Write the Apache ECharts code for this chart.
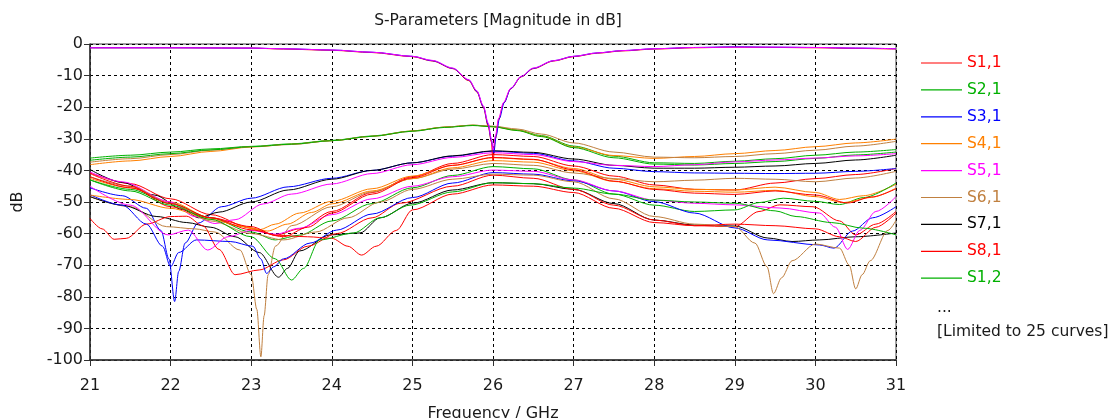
<!DOCTYPE html>
<html>
<head>
<meta charset="utf-8">
<script src="https://cdn.jsdelivr.net/npm/echarts@6/dist/echarts.min.js"></script>
<style>
  html, body { margin: 0; padding: 0; background: #ffffff; }
  #chart { width: 1110px; height: 418px; }
</style>
</head>
<body>
<div id="chart"></div>
<script>
// ---- axis ranges ----
const freqRange = [21, 31];      // GHz
const dbRange = [-100, 0];       // dB

// ---- curve data: [frequency GHz, magnitude dB] ----
// near-0 dB transmission curves with the notch at 26 GHz
const topMagenta = [[21,-1.2],[22,-1.2],[23,-1.3],[23.4,-1.5],[24,-1.9],[24.5,-2.6],[25,-3.9],[25.25,-5.2],[25.5,-7.6],[25.7,-11.3],[25.8,-14.8],[25.88,-19.5],[25.94,-25],[25.98,-30],[26.0,-33.5],[26.03,-29],[26.07,-23.5],[26.13,-18.5],[26.22,-14],[26.35,-10.2],[26.5,-7.6],[26.75,-5.3],[27,-3.9],[27.3,-2.8],[27.6,-2.1],[28,-1.5],[28.5,-1.1],[29,-1.0],[29.5,-1.0],[30,-1.1],[30.5,-1.3],[31,-1.5]];
const topRed = [[21,-1.2],[22,-1.2],[23,-1.3],[23.4,-1.6],[24,-2.0],[24.5,-2.7],[25,-4.0],[25.25,-5.4],[25.5,-7.8],[25.7,-11.6],[25.8,-15.2],[25.88,-20],[25.94,-26],[25.98,-31],[26.0,-37],[26.03,-30],[26.07,-24],[26.13,-18.8],[26.22,-14.2],[26.35,-10.4],[26.5,-7.8],[26.75,-5.4],[27,-4.0],[27.3,-2.9],[27.6,-2.2],[28,-1.6],[28.5,-1.2],[29,-1.0],[29.5,-1.1],[30,-1.2],[30.5,-1.4],[31,-1.6]];
const topBlue = [[21,-1.2],[22,-1.2],[23,-1.3],[23.4,-1.5],[24,-1.9],[24.5,-2.6],[25,-3.9],[25.25,-5.3],[25.5,-7.7],[25.7,-11.4],[25.8,-15],[25.88,-19.8],[25.94,-25.5],[25.98,-30.5],[26.01,-34.5],[26.04,-29],[26.08,-23.5],[26.14,-18.5],[26.22,-14.1],[26.35,-10.3],[26.5,-7.7],[26.75,-5.3],[27,-3.9],[27.3,-2.8],[27.6,-2.1],[28,-1.5],[28.5,-1.1],[29,-0.9],[29.5,-1.0],[30,-1.1],[30.5,-1.3],[31,-1.5]];

// upper coupling bundle peaking near 25.75 GHz
const greenB1 = [[21,-36.1],[21.5,-35.2],[22,-34.2],[22.5,-33.2],[23,-32.4],[23.5,-31.6],[24,-30.5],[24.5,-29.1],[25,-27.5],[25.4,-26.3],[25.75,-25.7],[26,-26.1],[26.3,-27.2],[26.6,-29],[27,-32.3],[27.5,-35.5],[28,-37.6],[28.5,-37.8],[29,-37.1],[29.5,-36.3],[30,-35.2],[30.5,-34.2],[31,-33.4]];
const greenB2 = [[21,-36.8],[21.5,-35.8],[22,-34.7],[22.5,-33.5],[23,-32.5],[23.5,-31.7],[24,-30.6],[24.5,-29.2],[25,-27.6],[25.4,-26.4],[25.75,-25.8],[26,-26.2],[26.3,-27.4],[26.6,-29.3],[27,-32.8],[27.5,-36],[28,-38],[28.5,-38.3],[29,-37.8],[29.5,-37.2],[30,-36.2],[30.5,-35.1],[31,-34.2]];
const tanB3 = [[21,-37.4],[21.5,-36.3],[22,-35],[22.5,-33.6],[23,-32.5],[23.5,-31.8],[24,-30.6],[24.5,-29.2],[25,-27.6],[25.4,-26.3],[25.75,-25.7],[26,-26],[26.3,-26.9],[26.6,-28.5],[27,-31.3],[27.5,-34.2],[28,-35.8],[28.5,-36],[29,-35.6],[29.5,-34.7],[30,-33.6],[30.5,-32.3],[31,-30.8]];
const orangeB4 = [[21,-38.2],[21.5,-37],[22,-35.6],[22.5,-34],[23,-32.6],[23.5,-31.7],[24,-30.6],[24.5,-29.2],[25,-27.5],[25.4,-26.3],[25.75,-25.7],[26,-26.2],[26.3,-27.3],[26.6,-29.2],[27,-32.6],[27.5,-35.3],[28,-36.2],[28.5,-35.6],[29,-34.7],[29.5,-33.7],[30,-32.5],[30.5,-31.3],[31,-30.1]];

// curves peaking near -34 dB at 26 GHz
const blackC1 = [[21,-39.7],[21.4,-43.8],[21.8,-47.8],[22.15,-52.4],[22.35,-55],[22.6,-53.2],[23,-50],[23.46,-46.2],[24,-42.8],[24.5,-40],[25,-37.6],[25.5,-35.4],[26,-33.8],[26.5,-34.3],[27,-36.4],[27.5,-38.4],[28,-39.3],[28.5,-39.3],[29,-39],[29.5,-38.6],[30,-37.8],[30.5,-36.7],[31,-35.2]];
const blueC2 = [[21,-45.5],[21.4,-48],[21.7,-52],[21.88,-59],[21.98,-68],[22.05,-81.5],[22.1,-72],[22.18,-63],[22.34,-56.7],[22.63,-51.5],[23,-48.8],[23.46,-45.2],[24,-42.5],[24.5,-40],[25,-37.6],[25.5,-35.5],[26,-33.9],[26.5,-34.6],[27,-37],[27.5,-39.3],[28,-40.4],[28.5,-40.8],[29,-40.9],[29.5,-41],[30,-40.9],[30.5,-40.3],[31,-39.4]];
const magentaC3 = [[21,-40.5],[21.4,-43.6],[22,-50],[22.3,-54.6],[22.55,-56.8],[22.8,-55.6],[23.15,-50.6],[23.5,-47.5],[24,-44.3],[24.5,-41],[25,-38.2],[25.5,-35.9],[26,-34.4],[26.5,-35],[27,-37.2],[27.5,-38.4],[28,-38.8],[28.5,-38.2],[29,-37.3],[29.5,-36.7],[30,-36.1],[30.5,-35.4],[31,-34.7]];

// curves between -35 and -38 dB at 26 GHz
const redD1 = [[21,-40.8],[21.5,-44.2],[22,-49],[22.5,-54],[23,-58.3],[23.3,-60.5],[23.6,-58.5],[24,-53],[24.5,-47],[25,-42],[25.5,-37.8],[26,-35],[26.5,-35.6],[27,-38.6],[27.5,-41.8],[28,-44.6],[28.5,-46],[29,-46.2],[29.5,-44],[30,-42.6],[30.5,-41.3],[31,-39.4]];
const orangeD2 = [[21,-42.5],[21.5,-45.5],[22,-50],[22.5,-55],[22.8,-57.3],[23.1,-58.8],[23.3,-57],[23.6,-53.5],[24,-49.8],[24.5,-45.8],[25,-41.8],[25.5,-38.4],[26,-36],[26.5,-36.6],[27,-39.4],[27.5,-42.8],[28,-45.2],[28.5,-46],[29,-46.2],[29.5,-45.3],[30,-47],[30.3,-49.2],[30.6,-48],[31,-44.4]];
const orangeD3 = [[21,-47.8],[21.5,-49.2],[22,-52],[22.5,-55.5],[22.9,-57.8],[23.2,-59.2],[23.45,-57],[23.75,-53.3],[24,-50.6],[24.5,-46.5],[25,-42.6],[25.5,-39.2],[26,-36.9],[26.5,-37.4],[27,-40.1],[27.5,-43.5],[28,-45.8],[28.5,-46.6],[29,-46.9],[29.5,-46.3],[30,-48.3],[30.35,-50.2],[30.7,-48.5],[31,-45.6]];
const tanD4 = [[21,-48.3],[21.5,-51.5],[21.95,-57.8],[22.3,-58.5],[22.55,-59.5],[22.86,-65.2],[23.0,-73],[23.07,-84],[23.12,-99],[23.16,-86],[23.21,-73],[23.3,-64],[23.5,-57.5],[24,-51.5],[24.5,-46.8],[25,-42.6],[25.5,-39.6],[26,-37.8],[26.5,-38.4],[27,-40.8],[27.5,-42.6],[28,-43.6],[28.5,-43.1],[29,-42.5],[29.5,-42.8],[30,-43.6],[30.5,-42.4],[31,-40.3]];
const redD5 = [[21,-42],[21.5,-45.5],[22,-50.5],[22.5,-55],[23,-58.8],[23.4,-61],[23.7,-58],[24,-53.5],[24.5,-47.5],[25,-42.3],[25.5,-38.4],[26,-35.9],[26.5,-36.5],[27,-39.8],[27.5,-43.4],[28,-46],[28.5,-47.2],[29,-47.6],[29.5,-46.5],[30,-47.8],[30.4,-50.3],[30.7,-48.4],[31,-45.8]];

// curves near -39 to -42 dB at 26 GHz
const greenE1 = [[21,-43],[21.5,-46],[22,-50.5],[22.5,-55],[23,-59.5],[23.3,-62],[23.6,-60.5],[24,-56],[24.5,-50.5],[25,-45.5],[25.5,-41.6],[26,-38.8],[26.5,-39.5],[27,-43],[27.5,-47.5],[28,-51],[28.5,-53],[29,-52.5],[29.3,-50.2],[29.6,-48.8],[30,-49.8],[30.3,-50.8],[30.6,-48.6],[31,-44]];
const magentaE2 = [[21,-45],[21.5,-51],[21.97,-60.4],[22.22,-58.9],[22.46,-65.2],[22.71,-61],[23,-59],[23.3,-60.2],[23.6,-58.3],[24,-54],[24.5,-49],[25,-45],[25.5,-42],[26,-39.9],[26.5,-40.3],[27,-43],[27.5,-46.5],[28,-49.4],[28.5,-50.4],[29,-50.9],[29.56,-51.9],[30.05,-53.5],[30.25,-58],[30.4,-65],[30.55,-59],[30.75,-53],[31,-48.3]];
const blueE3 = [[21,-47.7],[21.4,-51],[21.7,-57],[21.9,-64],[22.0,-70.5],[22.1,-66],[22.32,-62],[22.74,-62.5],[23.02,-64],[23.12,-68],[23.19,-72.6],[23.28,-70.5],[23.4,-68],[23.73,-63],[24.06,-58.9],[24.5,-53.8],[25,-48.6],[25.5,-44],[26,-40.7],[26.5,-41.2],[27,-43.3],[27.5,-46.5],[28,-49.9],[28.5,-53.5],[29,-58.2],[29.41,-62],[30.05,-63.6],[30.23,-64.6],[30.46,-59.2],[30.71,-55],[31,-51.5]];
const redE4 = [[21,-55.2],[21.15,-58.5],[21.3,-61.8],[21.45,-61.5],[21.7,-57],[22,-54.6],[22.2,-54.5],[22.4,-57.5],[22.6,-65],[22.8,-73],[23.1,-71.5],[23.4,-68.3],[23.7,-64],[24.06,-60],[24.5,-55],[24.85,-50.4],[25.5,-45],[26,-41.5],[26.5,-42.5],[27,-46],[27.5,-51],[28,-55.7],[28.5,-57.5],[29,-57.8],[29.3,-53],[29.56,-50.9],[29.97,-51.5],[30.3,-56],[30.5,-60.4],[30.75,-57],[31,-53]];

// lowest group, near -44 dB at 26 GHz
const blackF1 = [[21,-48.3],[21.4,-51],[21.83,-54.6],[22.2,-56.5],[22.5,-58],[22.8,-61],[23.1,-66],[23.34,-73.8],[23.45,-71],[23.6,-65.5],[23.98,-60.4],[24.35,-59.8],[24.6,-55],[25,-50.4],[25.5,-46.2],[26,-43.9],[26.5,-44.2],[27,-46],[27.5,-50.5],[28,-55.7],[28.5,-57.3],[29,-57.6],[29.41,-61.4],[29.71,-62.5],[30.05,-62],[30.5,-61],[31,-59.8]];
const greenF2 = [[21,-43],[21.5,-46.5],[22,-51],[22.5,-55.5],[23,-61],[23.3,-68],[23.5,-74.7],[23.65,-71],[23.85,-62],[24.27,-59.8],[24.6,-55],[24.97,-51],[25.5,-46.8],[26,-43.9],[26.5,-44.2],[27,-45.6],[27.5,-47.5],[28,-49.4],[28.5,-50],[29,-50.4],[29.5,-52.8],[29.76,-54.6],[30.2,-56.5],[30.6,-58.3],[31,-60.4]];
const redF3 = [[21,-41],[21.5,-45],[22,-51.5],[22.5,-55],[23,-57.8],[23.3,-60.5],[23.7,-61],[24,-61.5],[24.2,-64],[24.37,-66.8],[24.55,-64],[24.8,-59],[25,-52.5],[25.5,-47.5],[26,-44.6],[26.5,-45],[27,-47],[27.5,-52],[28,-56.5],[28.5,-57.5],[29,-57],[29.5,-57.5],[30,-58.5],[30.3,-61],[30.5,-62.5],[30.75,-58],[31,-53.5]];

// curve with the two deep notches at 29.5 and 30.5 GHz
const tanG = [[21,-42],[21.5,-45],[22,-50.5],[22.5,-56],[23,-60],[23.4,-62],[23.8,-59.5],[24.2,-55],[24.6,-50],[25,-46],[25.5,-42.8],[26,-41.2],[26.5,-41.5],[27,-43.6],[27.5,-49],[28,-54.6],[28.5,-57],[29,-57.8],[29.25,-63],[29.4,-70.5],[29.48,-79],[29.58,-74],[29.71,-68.6],[30,-63.3],[30.3,-64.6],[30.42,-70],[30.5,-77.5],[30.58,-73],[30.68,-68.6],[30.9,-59],[31,-55.8]];

// ---- legend entries shown (first nine curves) ----
const legendNames = ['S1,1','S2,1','S3,1','S4,1','S5,1','S6,1','S7,1','S8,1','S1,2'];
const moreText = '...';
const limitText = '[Limited to 25 curves]';

// ---- colours ----
const RED = '#ff0000', GREEN = '#00b000', BLUE = '#0000ff', ORANGE = '#ff8000',
      MAGENTA = '#ff00ff', TAN = '#c08040', BLACK = '#000000';

// drawing order: later entries are painted on top
const curves = [
  { name: 'S1,1', color: RED, data: redD1 },
  { name: 'S2,1', color: GREEN, data: greenB1 },
  { name: 'S3,1', color: BLUE, data: blueC2 },
  { name: 'S4,1', color: ORANGE, data: orangeB4 },
  { name: 'S6,1', color: TAN, data: tanB3 },
  { name: 'S7,1', color: BLACK, data: blackC1 },
  { name: 'S1,2', color: GREEN, data: greenB2 },
  { name: 'S3,2', color: ORANGE, data: orangeD2 },
  { name: 'S4,2', color: MAGENTA, data: magentaC3 },
  { name: 'S5,2', color: TAN, data: tanD4 },
  { name: 'S6,2', color: BLACK, data: blackF1 },
  { name: 'S7,2', color: RED, data: redE4 },
  { name: 'S8,2', color: GREEN, data: greenE1 },
  { name: 'S1,3', color: BLUE, data: blueE3 },
  { name: 'S2,3', color: ORANGE, data: orangeD3 },
  { name: 'S3,3', color: MAGENTA, data: magentaE2 },
  { name: 'S4,3', color: TAN, data: tanG },
  { name: 'S5,3', color: RED, data: redF3 },
  { name: 'S6,3', color: GREEN, data: greenF2 },
  { name: 'S7,3', color: RED, data: redD5 },
  { name: 'S8,1', color: RED, data: topRed },
  { name: 'S2,2', color: BLUE, data: topBlue },
  { name: 'S5,1', color: MAGENTA, data: topMagenta }
];

const FONT = 'DejaVu Sans';
const colorOf = {};
curves.forEach(c => { if (!(c.name in colorOf)) colorOf[c.name] = c.color; });

// plain horizontal stroke used as the legend sample
const LEGEND_LINE = 'path://M0,0 L41,0 L41,1.2 L0,1.2 Z';

const chart = echarts.init(document.getElementById('chart'), null, { renderer: 'canvas' });

chart.setOption({
  animation: false,
  backgroundColor: '#ffffff',
  textStyle: { fontFamily: FONT },
  title: {
    text: 'S-Parameters [Magnitude in dB]',
    left: 493,
    top: 7,
    textAlign: 'center',
    textStyle: { fontFamily: FONT, fontSize: 15.5, fontWeight: 'normal', color: '#1a1a1a', lineHeight: 17 }
  },
  grid: {
    left: 90, right: 214, top: 44, bottom: 58,
    outerBoundsMode: 'none',
    containLabel: false,
    show: true, borderColor: '#404040', borderWidth: 1, backgroundColor: 'transparent'
  },
  legend: {
    orient: 'vertical',
    left: 916,
    top: 50,
    itemWidth: 41,
    itemHeight: 14,
    itemGap: 10.9,
    icon: LEGEND_LINE,
    symbolKeepAspect: true,
    selectedMode: false,
    data: legendNames.map(n => ({ name: n, textStyle: { color: colorOf[n] } })),
    textStyle: { fontFamily: FONT, fontSize: 15.5, lineHeight: 15 }
  },
  xAxis: {
    type: 'value',
    min: freqRange[0], max: freqRange[1], interval: 1,
    name: 'Frequency / GHz',
    nameLocation: 'middle',
    nameGap: 46,
    nameTextStyle: { fontFamily: FONT, fontSize: 16, color: '#1a1a1a' },
    axisLine: { show: true, onZero: false, lineStyle: { color: '#303030', width: 1.5 } },
    axisTick: { show: true, inside: false, length: 6, lineStyle: { color: '#303030' } },
    axisLabel: { margin: 18, fontFamily: FONT, fontSize: 16, color: '#1a1a1a' },
    splitLine: { show: true, lineStyle: { color: '#000000', width: 1, type: [3, 3] } }
  },
  yAxis: {
    type: 'value',
    min: dbRange[0], max: dbRange[1], interval: 10,
    name: 'dB',
    nameLocation: 'middle',
    nameGap: 64,
    nameTextStyle: { fontFamily: FONT, fontSize: 16, color: '#1a1a1a' },
    axisLine: { show: true, onZero: false, lineStyle: { color: '#303030', width: 1.5 } },
    axisTick: { show: true, inside: false, length: 6, lineStyle: { color: '#303030' } },
    axisLabel: { margin: 7, fontFamily: FONT, fontSize: 16, color: '#1a1a1a' },
    splitLine: { show: true, lineStyle: { color: '#000000', width: 1, type: [3, 3] } }
  },
  graphic: [
    { type: 'text', left: 937, top: 300, style: { text: moreText, font: '15.5px "DejaVu Sans"', fill: '#1a1a1a' } },
    { type: 'text', left: 937, top: 324, style: { text: limitText, font: '15.5px "DejaVu Sans"', fill: '#1a1a1a' } }
  ],
  series: curves.map(c => ({
    name: c.name,
    type: 'line',
    data: c.data,
    showSymbol: false,
    symbol: 'none',
    smooth: 0.3,
    smoothMonotone: 'x',
    color: c.color,
    lineStyle: { color: c.color, width: 1 },
    emphasis: { disabled: true }
  }))
});
</script>
</body>
</html>
